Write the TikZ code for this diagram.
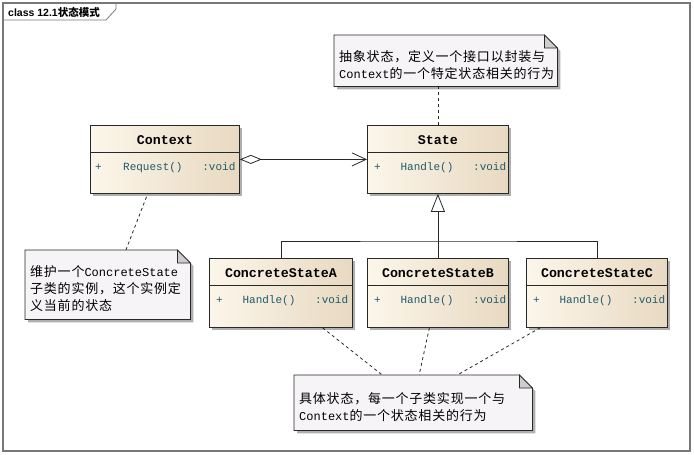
\documentclass[tikz,border=0pt]{standalone}
\usepackage{fontspec}
\setmainfont{Liberation Sans}
\newfontfamily\cjkf{Noto Sans CJK SC}[LetterSpace=6]
\newfontfamily\cjkt{Noto Sans CJK SC}
\newfontfamily\monof{Liberation Mono}
\usetikzlibrary{arrows.meta,shadows,calc,backgrounds}
\definecolor{clsL}{RGB}{252,246,234}
\definecolor{clsR}{RGB}{232,217,193}
\definecolor{noteF}{RGB}{247,244,247}
\definecolor{opC}{RGB}{30,90,105}
\definecolor{lineC}{RGB}{40,40,40}
\definecolor{shadowC}{RGB}{175,175,175}
\definecolor{foldC}{RGB}{205,205,205}
\definecolor{frameC}{RGB}{120,120,120}
\newcommand\zhtxt[1]{{\fontsize{13}{17}\cjkf #1}}
\newcommand\entxt[1]{{\fontsize{12}{17}\monof #1}}
\newcommand\notebody[2]{\raisebox{-4pt}[\height][\depth]{\parbox{#1}{\raggedright #2}}}
\tikzset{
  cls/.style={draw=lineC, line width=0.8pt, left color=clsL, right color=clsR,
    anchor=north west, inner sep=0pt,
    drop shadow={shadow xshift=3pt, shadow yshift=-3pt, fill=shadowC, opacity=1}},
  sepline/.style={draw=lineC, line width=0.8pt},
  ctitle/.style={font=\fontsize{13.3}{15}\monof\bfseries, inner sep=0pt},
  opline/.style={font=\fontsize{11}{13}\monof, text=opC, anchor=west, inner sep=0pt},
  notebox/.style={inner sep=0pt, anchor=north west, font=\fontsize{13}{17}\selectfont},
  notebg/.style={fill=noteF, draw=lineC, line width=0.7pt},
  link/.style={draw=lineC, line width=0.8pt},
  anchline/.style={draw=lineC, line width=0.8pt, dash pattern=on 3pt off 3pt},
}
\begin{document}
\begin{tikzpicture}[x=1pt, y=-1pt]
\useasboundingbox (0,0) rectangle (694,455);
% frame and tab
\draw[frameC, line width=1.2pt] (3,3) rectangle (690,451);
\draw[frameC, line width=0.8pt] (3,20) -- (106,20) -- (116,9) -- (116,3);
\node[anchor=west, inner sep=0pt, font=\fontsize{10.5}{12}\selectfont\bfseries] (title) at (8,12) {class 12.1{\cjkt\bfseries 状态模式}};

% classes
\node[cls, minimum width=149pt, minimum height=68pt] (context) at (90,125) {};
\draw[sepline] ($(context.north west)+(0,27)$) -- ($(context.north east)+(0,27)$);
\node[ctitle] (contextT) at ($(context.north)+(0,15.5)$) {Context};
\node[opline] (contextO) at ($(context.north west)+(5,42.5)$) {\makebox[28pt][l]{+}Request()\hspace{19.8pt}:void};

\node[cls, minimum width=141pt, minimum height=68pt] (state) at (367,125) {};
\draw[sepline] ($(state.north west)+(0,27)$) -- ($(state.north east)+(0,27)$);
\node[ctitle] (stateT) at ($(state.north)+(0,15.5)$) {State};
\node[opline] (stateO) at ($(state.north west)+(7,42.5)$) {\makebox[26.4pt][l]{+}Handle()\hspace{19.8pt}:void};

\node[cls, minimum width=143pt, minimum height=69pt] (cA) at (209,258) {};
\draw[sepline] ($(cA.north west)+(0,27)$) -- ($(cA.north east)+(0,27)$);
\node[ctitle] (cAT) at ($(cA.north)+(0,15.5)$) {ConcreteStateA};
\node[opline] (cAO) at ($(cA.north west)+(7,42.5)$) {\makebox[26.4pt][l]{+}Handle()\hspace{19.8pt}:void};

\node[cls, minimum width=141pt, minimum height=69pt] (cB) at (367,258) {};
\draw[sepline] ($(cB.north west)+(0,27)$) -- ($(cB.north east)+(0,27)$);
\node[ctitle] (cBT) at ($(cB.north)+(0,15.5)$) {ConcreteStateB};
\node[opline] (cBO) at ($(cB.north west)+(7,42.5)$) {\makebox[26.4pt][l]{+}Handle()\hspace{19.8pt}:void};

\node[cls, minimum width=141pt, minimum height=69pt] (cC) at (526,258) {};
\draw[sepline] ($(cC.north west)+(0,27)$) -- ($(cC.north east)+(0,27)$);
\node[ctitle] (cCT) at ($(cC.north)+(0,15.5)$) {ConcreteStateC};
\node[opline] (cCO) at ($(cC.north west)+(7,42.5)$) {\makebox[26.4pt][l]{+}Handle()\hspace{19.8pt}:void};

% notes
\node[notebox, minimum width=223pt, minimum height=51pt] (noteState) at (334,35)
  {\notebody{213pt}{\zhtxt{抽象状态，定义一个接口以封装与}\\\entxt{Context}\zhtxt{的一个特定状态相关的行为}}};
\node[notebox, minimum width=165pt, minimum height=69pt] (noteCtx) at (25,250)
  {\notebody{155pt}{\zhtxt{维护一个}\entxt{ConcreteState}\\\zhtxt{子类的实例，这个实例定}\\\zhtxt{义当前的状态}}};
\node[notebox, minimum width=238pt, minimum height=55pt] (noteSub) at (294,375)
  {\notebody{228pt}{\zhtxt{具体状态，每一个子类实现一个与}\\\entxt{Context}\zhtxt{的一个状态相关的行为}}};

\begin{pgfonlayer}{background}
\foreach \n in {noteState,noteCtx,noteSub}{
  \fill[shadowC, transform canvas={shift={(3pt,-3pt)}}] (\n.north west) -- ($(\n.north east)+(-13,0)$) -- ($(\n.north east)+(0,13)$) -- (\n.south east) -- (\n.south west) -- cycle;
  \path[notebg] (\n.north west) -- ($(\n.north east)+(-13,0)$) -- ($(\n.north east)+(0,13)$) -- (\n.south east) -- (\n.south west) -- cycle;
  \filldraw[fill=foldC, draw=lineC, line width=0.7pt] ($(\n.north east)+(-13,0)$) -- ($(\n.north east)+(-13,13)$) -- ($(\n.north east)+(0,13)$) -- cycle;
}
\end{pgfonlayer}

% connectors
\draw[link, {Diamond[open, length=22pt, width=9pt]}-{Straight Barb[length=14pt, width=13pt]}] (context.east) -- (state.west);
\coordinate (bus) at ($(cB.north)+(0,-17)$);
\draw[link] (cA.north) |- (bus) -| (cC.north);
\draw[link, -{Triangle[open, length=18pt, width=14pt]}] (cB.north) -- (state.south);

\draw[anchline] (noteState.south -| state.north) -- (state.north);
\draw[anchline] ($(noteCtx.north west)!0.61!(noteCtx.north east)$) -- ($(context.south west)!0.385!(context.south east)$);
\draw[anchline] ($(cA.south west)!0.79!(cA.south east)$) -- ($(noteSub.north west)!0.37!(noteSub.north east)$);
\draw[anchline] ($(cB.south west)!0.44!(cB.south east)$) -- ($(noteSub.north west)!0.525!(noteSub.north east)$);
\draw[anchline] ($(cC.south west)!0.1!(cC.south east)$) -- ($(noteSub.north west)!0.685!(noteSub.north east)$);
\end{tikzpicture}
\end{document}
